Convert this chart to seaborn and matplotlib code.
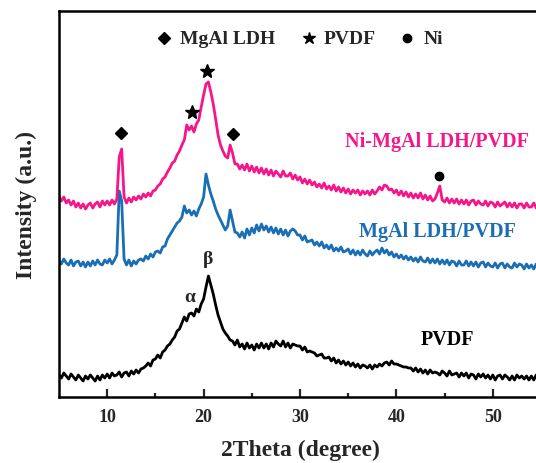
import numpy as np
import pandas as pd
import matplotlib
matplotlib.use("Agg")
import matplotlib.pyplot as plt
import seaborn as sns

# XRD patterns, 0.25 deg steps from 5 to 55 deg
# (intensity in arbitrary units, curves already offset)
two_theta_start = 5.0
two_theta_step = 0.25

pvdf = [
    22, 19, 24, 21,  18, 23, 20, 17,  22, 19, 16, 21,  18, 22, 19, 16,   # 5-8
    21, 17, 22, 19,  23, 19, 24, 21,  22, 25, 20, 24,  25, 21, 26, 23,   # 9-12
    27, 24, 28, 29,  31, 34, 31, 37,  38, 42, 39, 45,  47, 51, 53, 57,   # 13-16
    60, 66, 68, 74,  80, 76, 83, 84,  81, 88, 85, 93,  98, 110, 121, 112,  # 17-20
    103, 92, 82, 75,  68, 64, 61, 57,  56, 52, 57, 50,  53, 48, 54, 49,  # 21-24
    52, 47, 53, 49,  54, 49, 53, 48,  54, 50, 56, 53,  51, 56, 50, 54,   # 25-28
    49, 53, 52, 51,  51, 47, 50, 45,  46, 45, 44, 41,  42, 43, 39, 39,   # 29-32
    40, 36, 39, 34,  37, 33, 36, 32,  35, 31, 34, 30,  33, 29, 32, 31,   # 33-36
    29, 32, 28, 32,  30, 33, 31, 34,  35, 32, 36, 33,  33, 32, 31, 30,   # 37-40
    30, 29, 29, 26,  29, 25, 28, 24,  27, 23, 27, 24,  25, 24, 22, 26,   # 41-44
    24, 21, 26, 22,  23, 24, 20, 24,  21, 24, 19, 23,  22, 18, 23, 20,   # 45-48
    23, 19, 22, 18,  22, 17, 21, 22,  18, 22, 20, 17,  21, 17, 22, 19,   # 49-52
    21, 18, 21, 17,  21, 17, 22, 19,  20,                                # 53-55
]

mgal_pvdf = [
    137, 133, 138, 134,  132, 137, 131, 135,  136, 131, 135, 130,  135, 131, 136, 132,  # 5-8
    137, 133, 132, 137,  134, 138, 133, 137,  142, 206, 196, 138,  132, 137, 131, 136,  # 9-12
    133, 137, 138, 136,  141, 138, 143, 140,  145, 146, 144, 150,  151, 158, 162, 166,  # 13-16
    170, 174, 176, 180,  191, 184, 187, 182,  186, 181, 188, 193,  200, 223, 212, 203,  # 17-20
    196, 188, 182, 177,  172, 167, 171, 187,  176, 165, 164, 160,  165, 159, 168, 162,  # 21-24
    169, 164, 172, 166,  173, 167, 171, 165,  170, 164, 169, 163,  168, 162, 167, 161,  # 25-28
    166, 168, 166, 162,  162, 157, 161, 155,  156, 157, 152, 155,  151, 155, 149, 152,  # 29-32
    148, 152, 146, 149,  146, 150, 145, 146,  148, 143, 147, 142,  146, 142, 147, 143,  # 33-36
    141, 146, 142, 145,  147, 143, 149, 144,  147, 142, 145, 140,  143, 139, 142, 138,  # 37-40
    141, 137, 140, 136,  139, 135, 140, 136,  135, 139, 134, 138,  134, 138, 133, 137,  # 41-44
    133, 137, 132, 136,  135, 131, 136, 132,  132, 136, 131, 135,  131, 135, 130, 134,  # 45-48
    135, 130, 134, 131,  130, 134, 129, 133,  134, 129, 133, 130,  129, 134, 130, 133,  # 49-52
    132, 128, 133, 129,  132, 128, 133, 129,  131,                                      # 53-55
]

ni_mgal_pvdf = [
    201, 196, 200, 194,  197, 192, 196, 190,  194, 189, 193, 188,  192, 194, 189, 193,  # 5-8
    195, 190, 196, 192,  196, 192, 197, 193,  198, 240, 248, 200,  194, 199, 195, 200,  # 9-12
    197, 201, 198, 203,  200, 204, 201, 206,  207, 211, 213, 218,  220, 225, 229, 234,  # 13-16
    236, 242, 246, 252,  257, 272, 267, 271,  265, 273, 277, 290,  302, 313, 315, 305,  # 17-20
    293, 278, 262, 252,  246, 241, 239, 252,  244, 233, 233, 228,  232, 227, 233, 226,  # 21-24
    231, 225, 230, 224,  229, 223, 228, 222,  227, 221, 226, 223,  220, 226, 221, 221,  # 25-28
    224, 218, 222, 217,  220, 214, 218, 213,  217, 212, 215, 210,  213, 209, 214, 208,  # 29-32
    211, 207, 212, 206,  210, 205, 209, 204,  208, 203, 207, 204,  207, 202, 206, 203,  # 33-36
    206, 202, 207, 203,  206, 210, 207, 212,  211, 207, 208, 204,  207, 202, 206, 201,  # 37-40
    205, 200, 204, 199,  203, 199, 204, 198,  202, 197, 201, 196,  198, 204, 211, 197,  # 41-44
    195, 199, 194, 198,  194, 198, 193, 197,  193, 197, 192, 196,  197, 192, 196, 193,  # 45-48
    192, 196, 191, 195,  194, 190, 195, 191,  193, 195, 190, 194,  190, 194, 189, 193,  # 49-52
    193, 189, 194, 190,  190, 194, 189, 193,  191,                                      # 53-55
]

series_names = ["PVDF", "MgAl LDH/PVDF", "Ni-MgAl LDH/PVDF"]
series_colors = ["#000000", "#1A6EB4", "#F5168A"]

# phase markers above the peaks: (2theta, height)
ldh_peaks = [(11.45, 264), (23.1, 263)]
pvdf_peaks = [(18.8, 285), (20.4, 326)]
ni_peaks = [(44.4, 221)]

sns.set_theme(style="ticks")
plt.rcParams["font.family"] = ["Liberation Serif", "DejaVu Serif"]
plt.rcParams["font.weight"] = "bold"

fig = plt.figure(figsize=(5.36, 4.64), dpi=100)
ax = fig.add_axes([59 / 536, 66 / 464, 482 / 536, 386 / 464])

for name, vals, col in zip(series_names, [pvdf, mgal_pvdf, ni_mgal_pvdf], series_colors):
    x = two_theta_start + two_theta_step * np.arange(len(vals))
    df = pd.DataFrame({"2theta": x, "I": vals})
    sns.lineplot(data=df, x="2theta", y="I", color=col, linewidth=2.0,
                 estimator=None, ax=ax)

ax.set_xlim(5, 55)
ax.set_ylim(0, 386)

# peak markers
for px, py in ldh_peaks:
    ax.plot(px, py, marker="D", color="black", markersize=6)
for px, py in pvdf_peaks:
    ax.plot(px, py, marker="*", color="black", markersize=10)
for px, py in ni_peaks:
    ax.plot(px, py, marker="o", color="black", markersize=6)

ax.text(18.6, 100, "α", ha="center", va="center", fontsize=14, fontweight="bold")
ax.text(20.5, 138, "β", ha="center", va="center", fontsize=14, fontweight="bold")

# curve labels
ax.text(44.2, 256, "Ni-MgAl LDH/PVDF", color=series_colors[2], ha="center",
        va="center", fontsize=14.5, fontweight="bold")
ax.text(44.3, 166, "MgAl LDH/PVDF", color=series_colors[1], ha="center",
        va="center", fontsize=14.5, fontweight="bold")
ax.text(45.3, 58, "PVDF", color="black", ha="center", va="center",
        fontsize=14.5, fontweight="bold")

# legend-like header
ax.plot(15.9, 359, marker="D", color="black", markersize=6)
ax.text(17.5, 359, "MgAl LDH", ha="left", va="center", fontsize=14, fontweight="bold")
ax.plot(30.9, 359, marker="*", color="black", markersize=9)
ax.text(32.5, 359, "PVDF", ha="left", va="center", fontsize=14, fontweight="bold")
ax.plot(41.1, 359, marker="o", color="black", markersize=6)
ax.text(42.8, 359, "Ni", ha="left", va="center", fontsize=14, fontweight="bold")

ax.set_xticks([10, 20, 30, 40, 50])
ax.set_xticks([15, 25, 35, 45], minor=True)
ax.set_yticks([])
ax.tick_params(axis="x", which="major", direction="in", length=6, width=1.6,
               labelsize=13, pad=8)
ax.tick_params(axis="x", which="minor", direction="in", length=3, width=1.6)
for lab in ax.get_xticklabels():
    lab.set_fontweight("bold")
for side in ["left", "right", "top", "bottom"]:
    ax.spines[side].set_linewidth(1.8)
    ax.spines[side].set_color("black")

ax.set_xlabel("2Theta (degree)", fontsize=17, fontweight="bold", labelpad=10)
ax.set_ylabel("Intensity (a.u.)", fontsize=17, fontweight="bold", labelpad=16)

fig.savefig("out.png", dpi=100)
